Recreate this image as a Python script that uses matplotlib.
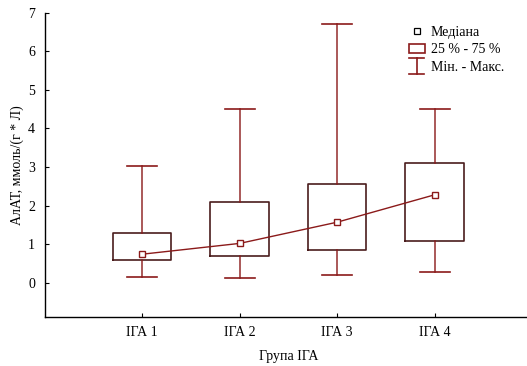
import matplotlib
matplotlib.use("Agg")
import matplotlib.pyplot as plt
from matplotlib.lines import Line2D
from matplotlib.patches import Rectangle
from matplotlib.legend_handler import HandlerBase

groups = ["ІГА 1", "ІГА 2", "ІГА 3", "ІГА 4"]
mins = [0.15, 0.13, 0.20, 0.28]
q1 = [0.58, 0.70, 0.86, 1.09]
medians = [0.74, 1.02, 1.57, 2.28]
q3 = [1.29, 2.10, 2.57, 3.10]
maxs = [3.03, 4.50, 6.70, 4.50]
yticks = [0, 1, 2, 3, 4, 5, 6, 7]

plt.rcParams['font.family'] = ['Liberation Serif', 'DejaVu Serif']

RED = "#8b1a1a"
BOXC = "#4a1c1c"
FS = 10

fig = plt.figure(figsize=(5.27, 3.66), dpi=100)
ax = fig.add_axes([0.0848, 0.1347, 0.925, 0.8306])

pos = list(range(1, len(groups) + 1))
stats = []
for i in range(len(groups)):
    stats.append(dict(med=medians[i], q1=q1[i], q3=q3[i],
                      whislo=mins[i], whishi=maxs[i], fliers=[]))
ax.bxp(stats, positions=pos, widths=0.6, showfliers=False,
       boxprops=dict(color=BOXC, linewidth=1.2),
       whiskerprops=dict(color=RED, linewidth=1.2, alpha=0.85),
       capprops=dict(color=RED, linewidth=1.2),
       medianprops=dict(linewidth=0),
       capwidths=0.31)
ax.plot(pos, medians, color=RED, linewidth=1.0, marker='s', markersize=4.5,
        markerfacecolor='white', markeredgecolor=RED, markeredgewidth=1.0, zorder=5)

ax.set_xlim(0, 5)
ax.set_ylim(-0.88, 7)
ax.set_xticks(pos)
ax.set_xticklabels(groups)
ax.set_yticks(yticks)
ax.tick_params(direction='in', length=3, width=0.8, labelsize=FS)
ax.tick_params(axis='x', pad=7)
ax.tick_params(axis='y', pad=7)
for s in ['top', 'right']:
    ax.spines[s].set_visible(False)
for s in ['left', 'bottom']:
    ax.spines[s].set_linewidth(1.0)
ax.set_ylabel("АлАТ, ммоль/(г * Л)", fontsize=FS, labelpad=3)
ax.set_xlabel("Група ІГА", fontsize=FS, labelpad=7.5)


class HandlerIBeam(HandlerBase):
    def create_artists(self, legend, orig_handle, xdescent, ydescent,
                       width, height, fontsize, trans):
        cx = width / 2 - xdescent
        w = width * 0.95
        cy = height / 2 - ydescent
        h = 11.5 / 2
        lines = [
            Line2D([cx - w / 2, cx + w / 2], [cy + h, cy + h]),
            Line2D([cx - w / 2, cx + w / 2], [cy - h, cy - h]),
            Line2D([cx, cx], [cy - h, cy + h]),
        ]
        for l in lines:
            l.set_color(RED)
            l.set_linewidth(1.2)
            l.set_transform(trans)
        return lines


class HandlerBox(HandlerBase):
    def create_artists(self, legend, orig_handle, xdescent, ydescent,
                       width, height, fontsize, trans):
        cy = height / 2 - ydescent
        r = Rectangle((width * 0.0 - xdescent, cy - 3.4),
                      width * 1.0, 6.8, facecolor='white',
                      edgecolor=RED, linewidth=1.2, transform=trans)
        return [r]


h_med = Line2D([], [], linestyle='none', marker='s', markersize=4,
               markerfacecolor='white', markeredgecolor='black', markeredgewidth=0.9)
h_box = Rectangle((0, 0), 1, 1)
h_rng = object()
leg = ax.legend([h_med, h_box, h_rng], ["Медіана", "25 % - 75 %", "Мін. - Макс."],
                handler_map={Rectangle: HandlerBox(), object: HandlerIBeam()},
                loc='upper left', bbox_to_anchor=(0.735, 0.975), frameon=False,
                fontsize=FS, handlelength=1.15, handleheight=0.8,
                handletextpad=0.45, labelspacing=0.3, borderaxespad=0)
fig.savefig("out.png", dpi=100)
